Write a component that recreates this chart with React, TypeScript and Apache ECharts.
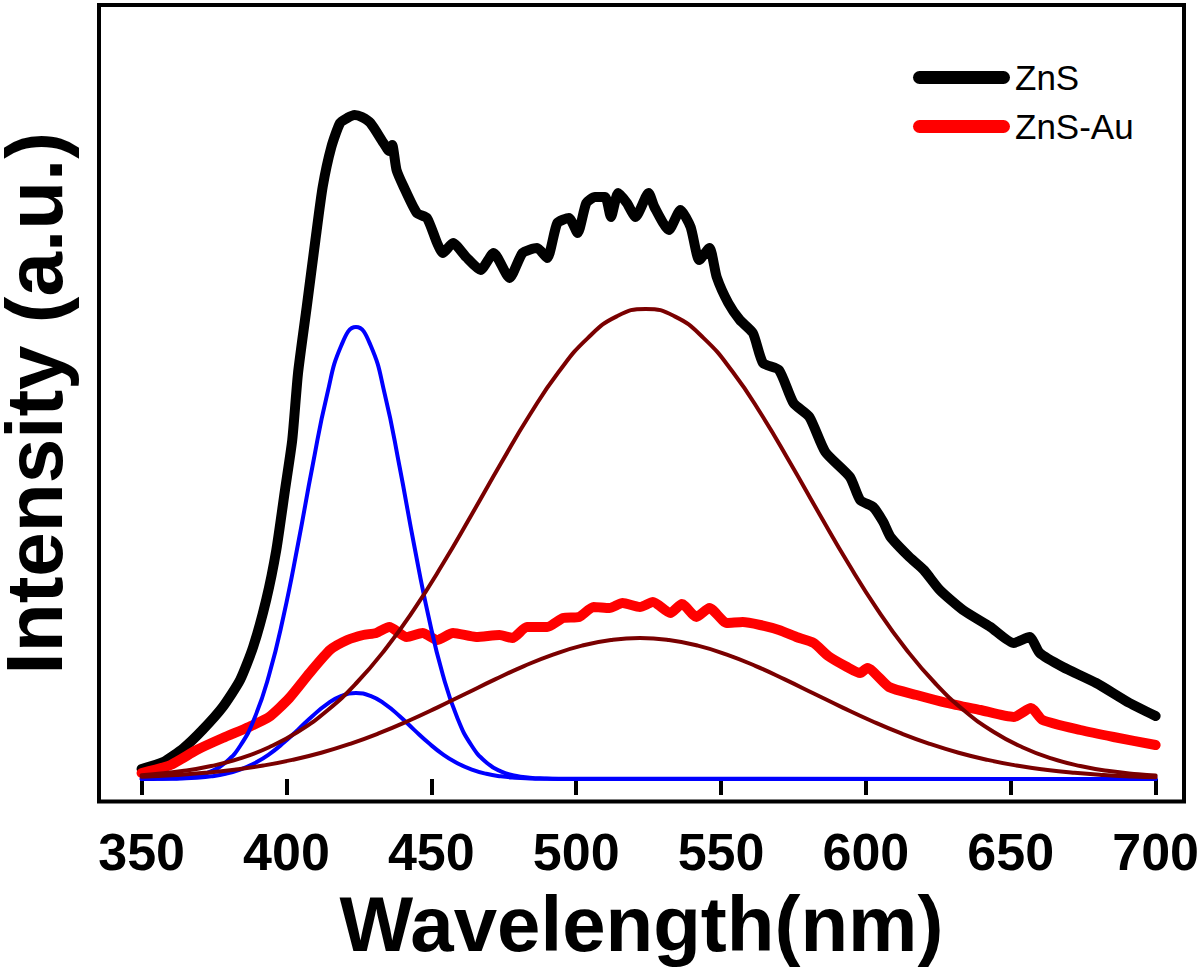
import React, { useEffect, useRef } from "react";
import * as echarts from "echarts";

const FONT = "'Liberation Sans', Arial, sans-serif";

const wavelengthTicks = [350, 400, 450, 500, 550, 600, 650, 700];

// ZnS measured PL (black)
const znsSpectrum: [number, number][] = [
  [350, 10], [357.5, 17], [364.5, 31], [371, 49], [378, 72], [384, 99], [388.5, 132],
  [393, 179], [396.5, 229], [399.5, 289], [402, 339], [404, 406], [407, 472], [410, 539],
  [412.5, 592], [415.5, 632], [418.5, 656], [421, 661], [423.5, 664], [426, 662], [429, 656],
  [433.5, 636], [435.5, 628], [436.5, 634], [438, 609], [440.5, 592], [445, 566], [448.5, 561],
  [452, 536], [454, 526], [457.5, 536], [462, 522], [467, 509], [471.5, 526], [477, 501],
  [481.5, 526], [486.5, 531], [490, 521], [493.5, 556], [497.5, 561], [500.5, 546],
  [503.5, 576], [506.5, 582], [510, 582], [512, 562], [514.5, 586], [517.5, 576], [520.5, 562],
  [525, 586], [527, 572], [532, 549], [536, 569], [539.5, 552], [542.5, 519], [546, 531],
  [548.5, 502], [552.5, 476], [556.5, 459], [561, 446], [564.5, 416], [570, 409], [575, 376],
  [580.5, 362], [586, 327], [594.5, 302], [598, 279], [602.5, 272], [606, 257], [608.5, 242],
  [615, 222], [620, 209], [625.5, 189], [633.5, 169], [643, 152], [651, 136], [656.5, 142],
  [660, 126], [668, 112], [679.5, 96], [691, 76], [700, 63],
];

// ZnS-Au measured PL (red)
const znsAuSpectrum: [number, number][] = [
  [350, 6], [360, 14], [369, 29], [378, 41], [387, 52], [394, 62], [401, 81], [408, 106],
  [415, 129], [421, 139], [426.5, 144], [431, 146], [435.5, 152], [441.5, 142], [447, 146],
  [452, 139], [457.5, 146], [465.5, 142], [473.5, 144], [478, 141], [483, 152], [490, 152],
  [495.5, 161], [501, 162], [506, 172], [511.5, 171], [516, 176], [522, 172], [526.5, 177],
  [532.5, 166], [536.5, 175], [541.5, 162], [546, 171], [552, 156], [557.5, 157], [563.5, 154],
  [570, 149], [576, 142], [582, 136], [587, 123], [593.5, 112], [598, 106], [600.5, 111],
  [608, 92], [617.5, 84], [628, 76], [639.5, 69], [651, 62], [657, 71], [661, 59], [674, 49],
  [685.5, 42], [700, 34],
];

// Fitted components, ZnS (blue 424 nm band)
const znsBlueFit: [number, number][] = [
  [350, 0.1], [354, 0.2], [359, 0.5], [364, 1.3], [369, 3.2], [374, 7.6], [379, 16.6], [384, 33],
  [389, 61], [394, 104], [399, 163], [404, 235], [409, 313], [414, 384], [419, 434], [424, 452],
  [429, 434], [434, 384], [439, 313], [444, 235], [449, 163], [454, 104], [459, 61], [464, 33],
  [469, 16.6], [474, 7.6], [479, 3.2], [484, 1.3], [489, 0.5], [494, 0.2], [700, 0],
];

// Fitted components, ZnS-Au (blue 424 nm band)
const znsAuBlueFit: [number, number][] = [
  [350, 0.05], [354, 0.1], [359, 0.25], [364, 0.6], [369, 1.3], [374, 2.7], [379, 5.2], [384, 9.4],
  [389, 15.8], [394, 24.7], [399, 36.2], [404, 49.4], [409, 63], [414, 74.9], [419, 83.1], [424, 86],
  [429, 83.1], [434, 74.9], [439, 63], [444, 49.4], [449, 36.2], [454, 24.7], [459, 15.8],
  [464, 9.4], [469, 5.2], [474, 2.7], [479, 1.3], [484, 0.6], [489, 0.25], [494, 0.1], [700, 0],
];

// Fitted components, ZnS (brown ~524 nm band)
const znsGreenFit: [number, number][] = [
  [350, 3.8], [354, 4.7], [364, 7.9], [374, 13], [384, 20.6], [394, 31.8], [404, 47.3], [414, 68.3],
  [424, 95.5], [434, 129.3], [444, 169.4], [454, 215.2], [464, 264.8], [474, 315.5], [484, 364.2],
  [494, 407.2], [504, 440.9], [514, 462.6], [524, 470], [534, 462.6], [544, 440.9], [554, 407.2],
  [564, 364.2], [574, 315.5], [584, 264.8], [594, 215.2], [604, 169.4], [614, 129.3], [624, 95.5],
  [634, 68.3], [644, 47.3], [654, 31.8], [664, 20.6], [674, 13], [684, 7.9], [694, 4.7], [700, 3.4],
];

// Fitted components, ZnS-Au (brown ~522 nm band)
const znsAuGreenFit: [number, number][] = [
  [350, 2.3], [352, 2.5], [362, 4], [372, 6.2], [382, 9.3], [392, 13.5], [402, 19.1], [412, 26.3],
  [422, 35.2], [432, 45.8], [442, 58], [452, 71.4], [462, 85.5], [472, 99.6], [482, 112.9],
  [492, 124.4], [502, 133.4], [512, 139], [522, 141], [532, 139], [542, 133.4], [552, 124.4],
  [562, 112.9], [572, 99.6], [582, 85.5], [592, 71.4], [602, 58], [612, 45.8], [622, 35.2],
  [632, 26.3], [642, 19.1], [652, 13.5], [662, 9.3], [672, 6.2], [682, 4], [692, 2.5], [700, 1.7],
];

const legendNames = ["ZnS", "ZnS-Au"];

export default function App() {
  const ref = useRef<HTMLDivElement>(null);

  useEffect(() => {
    if (!ref.current) return;
    const chart = echarts.init(ref.current, undefined, { renderer: "svg" });

    const thick = (name: string, color: string, data: [number, number][]) => ({
      name,
      type: "line",
      data,
      showSymbol: false,
      symbol: "none",
      smooth: 0.2,
      itemStyle: { color },
      lineStyle: { color, width: 10, cap: "round", join: "round" },
      z: 2,
    });
    const thin = (name: string, color: string, data: [number, number][]) => ({
      name,
      type: "line",
      data,
      showSymbol: false,
      symbol: "none",
      smooth: true,
      itemStyle: { color },
      lineStyle: { color, width: 4, cap: "round", join: "round" },
      z: 3,
    });

    chart.setOption({
      animation: false,
      backgroundColor: "#ffffff",
      grid: {
        left: 99,
        right: 16,
        top: 5,
        bottom: 166.5,
        outerBoundsMode: "none",
        containLabel: false,
        show: true,
        borderColor: "#000",
        borderWidth: 4,
        backgroundColor: "transparent",
      },
      legend: {
        data: legendNames,
        orient: "vertical",
        left: 908,
        top: 55,
        itemWidth: 97,
        itemHeight: 13,
        itemGap: 14,
        icon: "path://M6.5 0H90.5A6.5 6.5 0 0 1 90.5 13H6.5A6.5 6.5 0 0 1 6.5 0Z",
        textStyle: { fontFamily: FONT, fontSize: 35, color: "#000", lineHeight: 35 },
      },
      xAxis: {
        type: "value",
        min: 335.3,
        max: 709.8,
        name: "Wavelength(nm)",
        nameLocation: "middle",
        nameGap: 83,
        nameTextStyle: { fontFamily: FONT, fontSize: 78, fontWeight: "bold", color: "#000" },
        axisLine: { show: false },
        splitLine: { show: false },
        axisTick: {
          show: true,
          inside: false,
          length: 16,
          customValues: wavelengthTicks,
          lineStyle: { color: "#000", width: 4 },
        },
        axisLabel: {
          customValues: wavelengthTicks,
          margin: 24,
          fontFamily: FONT,
          fontSize: 52,
          fontWeight: "bold",
          color: "#000",
        },
      },
      yAxis: {
        type: "value",
        min: -22.5,
        max: 774,
        name: "Intensity (a.u.)",
        nameLocation: "middle",
        nameGap: 34,
        nameTextStyle: {
          fontFamily: FONT,
          fontSize: 80,
          lineHeight: 62,
          fontWeight: "bold",
          color: "#000",
        },
        axisLine: { show: false },
        axisTick: { show: false },
        axisLabel: { show: false },
        splitLine: { show: false },
      },
      series: [
        thick("ZnS", "#000000", znsSpectrum),
        thick("ZnS-Au", "#ff0000", znsAuSpectrum),
        thin("ZnS blue fit", "#0000ff", znsBlueFit),
        thin("ZnS-Au blue fit", "#0000ff", znsAuBlueFit),
        thin("ZnS green fit", "#7a0000", znsGreenFit),
        thin("ZnS-Au green fit", "#7a0000", znsAuGreenFit),
      ],
    });

    return () => chart.dispose();
  }, []);

  return (
    <div
      ref={ref}
      style={{ position: "fixed", left: 0, top: 0, width: 1200, height: 968, background: "#fff" }}
    />
  );
}
